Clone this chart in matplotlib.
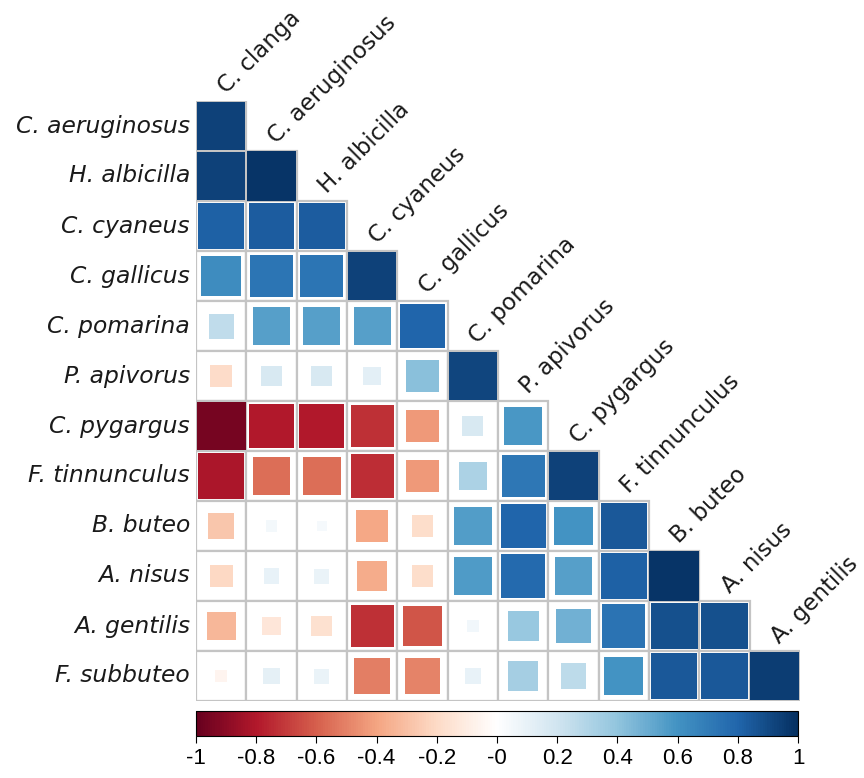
import numpy as np
import matplotlib.pyplot as plt
from matplotlib.colors import LinearSegmentedColormap, Normalize
from matplotlib.patches import Rectangle
import matplotlib.cm as cm

# species on rows (lower triangle) and columns
row_labels = ['C. aeruginosus', 'H. albicilla', 'C. cyaneus', 'C. gallicus',
              'C. pomarina', 'P. apivorus', 'C. pygargus', 'F. tinnunculus',
              'B. buteo', 'A. nisus', 'A. gentilis', 'F. subbuteo']
col_labels = ['C. clanga', 'C. aeruginosus', 'H. albicilla', 'C. cyaneus',
              'C. gallicus', 'C. pomarina', 'P. apivorus', 'C. pygargus',
              'F. tinnunculus', 'B. buteo', 'A. nisus', 'A. gentilis']

# correlation values, row by row (row i has i+1 entries)
r_aeruginosus = [0.93]
r_albicilla = [0.93, 0.98]
r_cyaneus = [0.82, 0.83, 0.83]
r_gallicus = [0.63, 0.73, 0.73, 0.93]
r_pomarina = [0.25, 0.55, 0.55, 0.55, 0.80]
r_apivorus = [-0.19, 0.17, 0.17, 0.12, 0.42, 0.92]
r_pygargus = [-0.96, -0.80, -0.80, -0.73, -0.43, 0.17, 0.58]
r_tinnunculus = [-0.82, -0.56, -0.56, -0.74, -0.43, 0.32, 0.72, 0.93]
r_buteo = [-0.28, 0.05, 0.04, -0.39, -0.18, 0.56, 0.80, 0.60, 0.85]
r_nisus = [-0.21, 0.10, 0.09, -0.37, -0.18, 0.57, 0.78, 0.55, 0.82, 0.98]
r_gentilis = [-0.33, -0.14, -0.17, -0.73, -0.63, 0.06, 0.38, 0.48, 0.74, 0.88, 0.88]
r_subbuteo = [-0.06, 0.11, 0.09, -0.51, -0.50, 0.10, 0.34, 0.26, 0.60, 0.85, 0.85, 0.95]

rows = [r_aeruginosus, r_albicilla, r_cyaneus, r_gallicus, r_pomarina, r_apivorus,
        r_pygargus, r_tinnunculus, r_buteo, r_nisus, r_gentilis, r_subbuteo]

cmap = LinearSegmentedColormap.from_list('corr', [
    '#67001F', '#B2182B', '#D6604D', '#F4A582', '#FDDBC7', '#FFFFFF',
    '#D1E5F0', '#92C5DE', '#4393C3', '#2166AC', '#053061'])
norm = Normalize(-1, 1)

W, H = 864, 778
fig = plt.figure(figsize=(W / 100, H / 100), dpi=100)
ax = fig.add_axes([196 / W, 1 - 701 / H, 604 / W, 600 / H])
ax.set_xlim(-0.5, 11.5)
ax.set_ylim(11.5, -0.5)
ax.axis('off')

for i, vals in enumerate(rows):
    for j, v in enumerate(vals):
        ax.add_patch(Rectangle((j - 0.5, i - 0.5), 1, 1, facecolor='white',
                               edgecolor='#c4c4c4', lw=1.6, zorder=1))
        s = np.sqrt(abs(v))
        ax.add_patch(Rectangle((j - s / 2, i - s / 2), s, s,
                               facecolor=cmap(norm(v)), edgecolor='none', zorder=2))
    ax.text(-0.62, i, row_labels[i], ha='right', va='center', fontsize=16.8,
            style='italic', color='#1a1a1a')

# column names sit diagonally above each diagonal cell
for j, lab in enumerate(col_labels):
    ax.text(j + 0.1, j - 0.64, lab, ha='left', va='baseline', fontsize=16.5,
            rotation=45, rotation_mode='anchor', color='#1a1a1a')

cax = fig.add_axes([196 / W, 1 - 736 / H, 602 / W, 25 / H])
cb = fig.colorbar(cm.ScalarMappable(norm=norm, cmap=cmap), cax=cax,
                  orientation='horizontal')
ticks = np.round(np.arange(-1, 1.01, 0.2), 1)
cb.set_ticks(ticks)
cb.set_ticklabels(['%g' % t for t in ticks])
cb.outline.set_linewidth(0.8)
cax.tick_params(length=5, width=0.8, labelsize=16, pad=4)
for t in cax.get_xticklabels():
    t.set_fontfamily('Liberation Sans')

plt.savefig('out.png', dpi=100)
